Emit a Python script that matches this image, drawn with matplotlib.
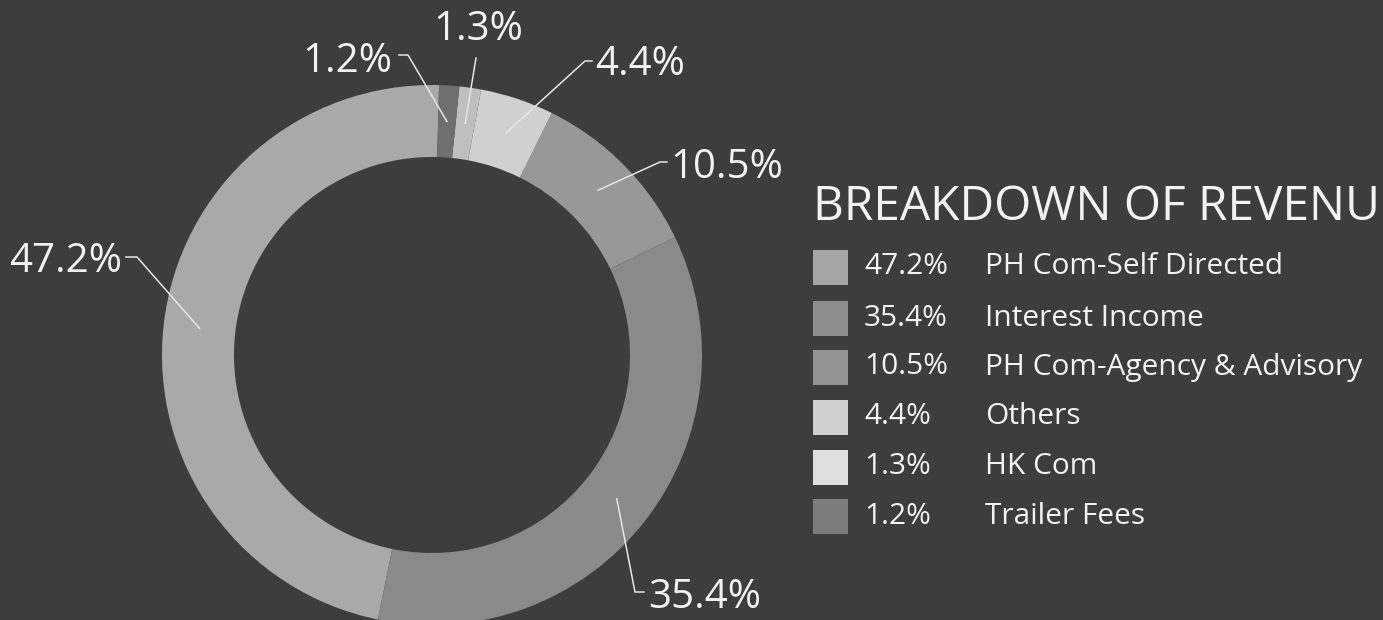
import numpy as np
import matplotlib.pyplot as plt

plt.rcParams['font.family'] = ['Open Sans', 'DejaVu Sans']

# revenue breakdown (percent)
categories = ['PH Com-Self Directed', 'Interest Income', 'PH Com-Agency & Advisory',
              'Others', 'HK Com', 'Trailer Fees']
shares = [47.2, 35.4, 10.5, 4.4, 1.3, 1.2]
slice_colors = ['#a9a9a9', '#8a8a8a', '#989898', '#d0d0d0', '#bfbfbf', '#6f6f6f']
legend_colors = ['#a6a6a6', '#8e8e8e', '#939393', '#d0d0d0', '#dedede', '#7c7c7c']

bg = '#3d3d3d'
fg = '#f2f2f2'

W, H = 1383, 620
fig = plt.figure(figsize=(W / 100, H / 100), dpi=100, facecolor=bg)
ax = fig.add_axes([0, 0, 1, 1])
ax.set_facecolor(bg)

cx, cy = 432, H - 355
R, ring = 270, 72
wedges, _ = ax.pie(shares, colors=slice_colors, startangle=88.5, counterclock=True,
                   center=(cx, cy), radius=R,
                   wedgeprops=dict(width=ring, linewidth=0))

# label layout: (elbow x, elbow y, end x, text x, text y, ha)
label_pos = [
    (137, 257, 126, 122, 262, 'right'),
    (635, 592, 644, 648, 598, 'left'),
    (660, 162, 667, 670, 168, 'left'),
    (585, 61, 592, 595, 65, 'left'),
    (476, 58, 476, 478, 30, 'center'),
    (408, 55, 399, 392, 62, 'right'),
]
for w, val, (ex, ey, tx, lx, ly, ha) in zip(wedges, shares, label_pos):
    mid = np.deg2rad((w.theta1 + w.theta2) / 2)
    r_mid = R - ring / 2
    ax0 = cx + r_mid * np.cos(mid)
    ay0 = cy + r_mid * np.sin(mid)
    ax.plot([ax0, ex, tx], [ay0, H - ey, H - ey], color='#e6e6e6', lw=1.1)
    ax.text(lx, H - ly, f'{val}%', color=fg, fontsize=29, ha=ha, va='center')

ax.set_xlim(0, W)
ax.set_ylim(0, H)
ax.set_aspect('equal')
ax.axis('off')

# legend (title runs off the right edge, as in the photo)
fig.text(813 / W, 1 - 207 / H, 'BREAKDOWN OF REVENUE', color=fg, fontsize=34.5,
         ha='left', va='center')
row_y = [267, 318, 367, 417, 467, 516]
for y, val, name, c in zip(row_y, shares, categories, legend_colors):
    ax.add_patch(plt.Rectangle((813, H - y - 17.5), 35, 35, color=c, lw=0))
    ax.text(864, H - y, f'{val}%', color=fg, fontsize=21.5, va='center', ha='left')
    ax.text(985, H - y, name, color=fg, fontsize=21.5, va='center', ha='left')

fig.savefig('out.png', dpi=100, facecolor=bg)
